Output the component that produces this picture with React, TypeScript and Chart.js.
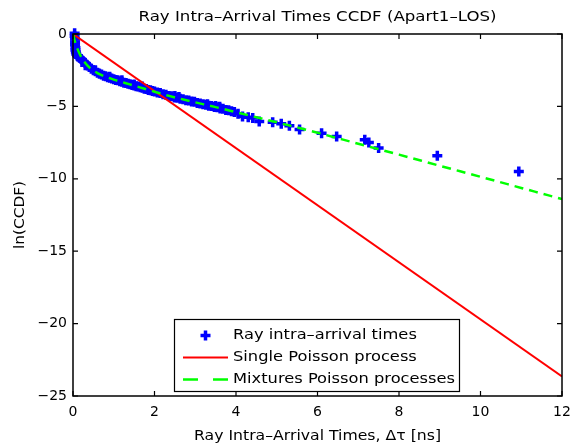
import React, { useEffect, useRef } from "react";
import { Chart, registerables } from "chart.js";

Chart.register(...registerables);

// ---------- data ----------
const TITLE = "Ray Intra–Arrival Times CCDF (Apart1–LOS)";
const X_TITLE = "Ray Intra–Arrival Times, Δτ [ns]";
const Y_TITLE = "ln(CCDF)";
const LEGEND_LABELS = [
  "Ray intra–arrival times",
  "Single Poisson process",
  "Mixtures Poisson processes",
];

const X_TICKS = [0, 2, 4, 6, 8, 10, 12];
const Y_TICKS = [-25, -20, -15, -10, -5, 0];

const scatterX = [
  0.04, 0.04, 0.05, 0.05, 0.05, 0.06, 0.06, 0.07, 0.08, 0.1, 0.12,
  0.15, 0.2, 0.25, 0.3, 0.35, 0.4, 0.45, 0.5, 0.55, 0.6, 0.65, 0.7, 0.75, 0.8, 0.85,
  0.9, 0.95, 1.0, 1.05, 1.1, 1.15, 1.2, 1.25, 1.3, 1.35, 1.4, 1.45, 1.5, 1.55, 1.6,
  1.65, 1.7, 1.75, 1.8, 1.85, 1.9, 1.95, 2.0, 2.07, 2.14, 2.21, 2.28, 2.35, 2.42,
  2.49, 2.56, 2.63, 2.7, 2.77, 2.84, 2.91, 2.98, 3.05, 3.12, 3.19, 3.26, 3.33, 3.4,
  3.47, 3.54, 3.61, 3.68, 3.75, 3.82, 3.89, 3.96,
  0.3, 0.55, 0.9, 1.2, 1.5, 1.7, 2.5, 2.6, 3.3, 3.5, 3.6,
  4.05, 4.16, 4.3, 4.41, 4.57, 4.9, 5.11, 5.31, 5.56, 6.1, 6.47, 7.16, 7.26, 7.5,
  8.94, 10.94,
];
const scatterY = [
  0.05, -0.15, -0.35, -0.55, -0.75, -0.95, -1.1, -1.25, -1.38, -1.48, -1.55,
  -1.6, -1.72, -1.88, -2.0, -2.15, -2.28, -2.4, -2.5, -2.58, -2.68, -2.74, -2.8, -2.88, -2.92, -2.98,
  -3.02, -3.08, -3.12, -3.18, -3.2, -3.26, -3.3, -3.36, -3.38, -3.44, -3.47, -3.52, -3.55, -3.6, -3.63,
  -3.68, -3.72, -3.78, -3.8, -3.86, -3.88, -3.94, -3.97, -4.04, -4.08, -4.16, -4.2, -4.28, -4.3,
  -4.38, -4.4, -4.48, -4.5, -4.57, -4.6, -4.66, -4.68, -4.77, -4.8, -4.86, -4.88, -4.95, -4.98,
  -5.04, -5.06, -5.14, -5.17, -5.24, -5.27, -5.34, -5.38,
  -2.15, -2.5, -2.95, -3.2, -3.48, -3.62, -4.28, -4.35, -4.85, -4.98, -5.02,
  -5.5, -5.7, -5.75, -5.8, -6.05, -6.1, -6.2, -6.34, -6.6, -6.85, -7.08, -7.3, -7.5, -7.87,
  -8.41, -9.5,
];

const singleX = [0, 12];
const singleY = [0, -23.65];

const mixtureX = [
  0, 0.05, 0.1, 0.15, 0.25, 0.4, 0.6, 0.8, 1.0, 1.3, 1.6, 1.9, 2.2, 2.6, 3.0, 3.5,
  4.0, 4.5, 5.0, 6.0, 7.0, 8.0, 9.0, 10.0, 11.0, 12.0,
];
const mixtureY = [
  0, -0.55, -0.95, -1.3, -1.8, -2.3, -2.7, -2.95, -3.15, -3.4, -3.65, -3.9, -4.15, -4.45, -4.72, -5.05,
  -5.4, -5.75, -6.1, -6.82, -7.58, -8.33, -9.1, -9.86, -10.63, -11.4,
];

const BLUE = "rgb(0,0,255)";
const RED = "rgb(255,0,0)";
const GREEN = "rgb(0,255,0)";
const FONT = "'DejaVu Sans', sans-serif";

function drawStretched(
  ctx: CanvasRenderingContext2D,
  text: string,
  x: number,
  y: number,
  size: number,
  sx: number,
  align: CanvasTextAlign
) {
  ctx.save();
  ctx.font = `${size}px ${FONT}`;
  ctx.fillStyle = "#000";
  ctx.textBaseline = "middle";
  ctx.textAlign = align;
  ctx.translate(x, y);
  ctx.scale(sx, 1);
  ctx.fillText(text, 0, 0);
  ctx.restore();
}

function fitScale(ctx: CanvasRenderingContext2D, text: string, size: number, target: number) {
  ctx.save();
  ctx.font = `${size}px ${FONT}`;
  const w = ctx.measureText(text).width;
  ctx.restore();
  return target / w;
}

const framePlugin = {
  id: "frame",
  afterDatasetsDraw(chart: any) {
    const ctx: CanvasRenderingContext2D = chart.ctx;
    const { left, right, top, bottom } = chart.chartArea;
    const xs = chart.scales.x;
    const ys = chart.scales.y;
    ctx.save();
    ctx.strokeStyle = "#000";
    ctx.lineWidth = 1.5;
    ctx.strokeRect(left, top, right - left, bottom - top);
    ctx.lineWidth = 1.2;
    ctx.beginPath();
    const tl = 5;
    xs.ticks.forEach((t: any) => {
      const px = xs.getPixelForValue(t.value);
      ctx.moveTo(px, bottom);
      ctx.lineTo(px, bottom - tl);
      ctx.moveTo(px, top);
      ctx.lineTo(px, top + tl);
    });
    ys.ticks.forEach((t: any) => {
      const py = ys.getPixelForValue(t.value);
      ctx.moveTo(left, py);
      ctx.lineTo(left + tl, py);
      ctx.moveTo(right, py);
      ctx.lineTo(right - tl, py);
    });
    ctx.stroke();
    ctx.restore();
  },
  afterDraw(chart: any) {
    const ctx: CanvasRenderingContext2D = chart.ctx;
    const { left, right, top, bottom } = chart.chartArea;
    const cx = (left + right) / 2;

    drawStretched(ctx, TITLE, cx, 17, 14, fitScale(ctx, TITLE, 14, 358), "center");
    drawStretched(ctx, X_TITLE, cx, 436, 14, fitScale(ctx, X_TITLE, 14, 247), "center");
    ctx.save();
    ctx.translate(20, (top + bottom) / 2);
    ctx.rotate(-Math.PI / 2);
    drawStretched(ctx, Y_TITLE, 0, 0, 14, fitScale(ctx, Y_TITLE, 14, 68), "center");
    ctx.restore();

    // legend
    const bx = 174.5, by = 319.5, bw = 285, bh = 72;
    ctx.save();
    ctx.fillStyle = "#fff";
    ctx.fillRect(bx, by, bw, bh);
    ctx.strokeStyle = "#000";
    ctx.lineWidth = 1.2;
    ctx.strokeRect(bx, by, bw, bh);
    ctx.restore();

    const rows = [335.5, 357.5, 379.5];
    const sampleL = 183, sampleR = 228;
    ctx.save();
    ctx.strokeStyle = BLUE;
    ctx.lineWidth = 3.5;
    const mx = (sampleL + sampleR) / 2, my = rows[0];
    ctx.beginPath();
    ctx.moveTo(mx - 5, my);
    ctx.lineTo(mx + 5, my);
    ctx.moveTo(mx, my - 5);
    ctx.lineTo(mx, my + 5);
    ctx.stroke();
    ctx.strokeStyle = RED;
    ctx.lineWidth = 2;
    ctx.beginPath();
    ctx.moveTo(sampleL, rows[1]);
    ctx.lineTo(sampleR, rows[1]);
    ctx.stroke();
    ctx.strokeStyle = GREEN;
    ctx.lineWidth = 2.5;
    ctx.setLineDash([15, 15]);
    ctx.beginPath();
    ctx.moveTo(sampleL, rows[2]);
    ctx.lineTo(sampleR, rows[2]);
    ctx.stroke();
    ctx.restore();

    const lsx = fitScale(ctx, LEGEND_LABELS[2], 14, 222);
    LEGEND_LABELS.forEach((lab, i) => {
      drawStretched(ctx, lab, 233, rows[i], 14, lsx, "left");
    });
  },
};

export default function App() {
  const canvasRef = useRef<HTMLCanvasElement | null>(null);

  useEffect(() => {
    document.body.style.margin = "0";
    const canvas = canvasRef.current;
    if (!canvas) return;

    const chart = new Chart(canvas, {
      type: "scatter",
      data: {
        datasets: [
          {
            label: LEGEND_LABELS[2],
            type: "line",
            data: mixtureX.map((x, i) => ({ x, y: mixtureY[i] })),
            borderColor: GREEN,
            borderWidth: 2.5,
            borderDash: [9, 6],
            pointRadius: 0,
            fill: false,
            cubicInterpolationMode: "monotone",
            order: 1,
          } as any,
          {
            label: LEGEND_LABELS[1],
            type: "line",
            data: singleX.map((x, i) => ({ x, y: singleY[i] })),
            borderColor: RED,
            borderWidth: 2,
            pointRadius: 0,
            fill: false,
            order: 2,
          } as any,
          {
            label: LEGEND_LABELS[0],
            data: scatterX.map((x, i) => ({ x, y: scatterY[i] })),
            pointStyle: "cross",
            pointRadius: 5,
            pointBorderWidth: 3.5,
            borderColor: BLUE,
            backgroundColor: BLUE,
            clip: false,
            order: 3,
          } as any,
        ],
      },
      options: {
        responsive: false,
        devicePixelRatio: 1,
        animation: false,
        layout: { padding: { top: 34, right: 9, left: 0, bottom: 0 } },
        plugins: {
          legend: { display: false },
          title: { display: false },
          tooltip: { enabled: false },
        },
        scales: {
          x: {
            type: "linear",
            min: 0,
            max: 12,
            afterBuildTicks: (s: any) => {
              s.ticks = X_TICKS.map((v) => ({ value: v }));
            },
            afterFit: (s: any) => {
              s.height = 48;
              s.paddingLeft = 0;
              s.paddingRight = 0;
            },
            grid: { display: false, drawTicks: false },
            border: { display: false },
            ticks: {
              color: "#000",
              padding: 8,
              maxRotation: 0,
              font: { family: FONT, size: 14 },
            },
          },
          y: {
            type: "linear",
            min: -25,
            max: 0,
            afterBuildTicks: (s: any) => {
              s.ticks = Y_TICKS.map((v) => ({ value: v }));
            },
            afterFit: (s: any) => {
              s.width = 73;
              s.paddingTop = 0;
              s.paddingBottom = 0;
            },
            grid: { display: false, drawTicks: false },
            border: { display: false },
            ticks: {
              color: "#000",
              padding: 6,
              font: { family: FONT, size: 14 },
              callback: (v: any) => (Number(v) < 0 ? "−" + Math.abs(Number(v)) : String(v)),
            },
          },
        },
      },
      plugins: [framePlugin],
    });

    return () => chart.destroy();
  }, []);

  return (
    <div style={{ position: "absolute", left: 0, top: 0, width: 571, height: 444, background: "#fff" }}>
      <canvas ref={canvasRef} width={571} height={444} style={{ display: "block" }} />
    </div>
  );
}
